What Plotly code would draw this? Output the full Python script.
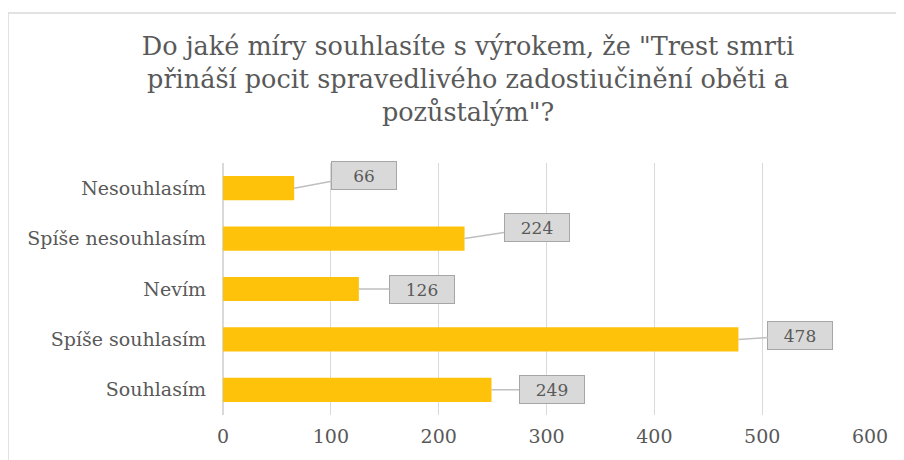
import plotly.graph_objects as go

# odpovědi (shora dolů) a počty respondentů
categories = ["Nesouhlasím", "Spíše nesouhlasím", "Nevím", "Spíše souhlasím", "Souhlasím"]
counts = [66, 224, 126, 478, 249]
x_ticks = [0, 100, 200, 300, 400, 500, 600]

title_text = ('Do jaké míry souhlasíte s výrokem, že "Trest smrti<br>'
              'přináší pocit spravedlivého zadostiučinění oběti a<br>'
              'pozůstalým"?')

# posun popisků (v pixelech) od konce sloupce
label_offsets = [(70, -13), (72, -11), (63, 0), (62, -4), (60, 0)]

font_family = "DejaVu Serif"
grey_text = "#595959"

fig = go.Figure(go.Bar(
    x=counts,
    y=categories,
    orientation="h",
    width=0.48,
    marker=dict(color="#FFC20A", line=dict(width=0)),
    hoverinfo="x+y",
))

# popisky dat jako bubliny s vodící čárou
for cat, val, (ax, ay) in zip(categories, counts, label_offsets):
    fig.add_annotation(
        x=val, y=cat, text=str(val),
        showarrow=True, arrowhead=0, arrowwidth=1.5, arrowcolor="#BFBFBF",
        ax=ax, ay=ay, standoff=0,
        bgcolor="#D9D9D9", bordercolor="#A6A6A6", borderwidth=1, borderpad=1,
        width=62, height=25,
        font=dict(family=font_family, size=17, color=grey_text),
    )

# rámeček grafu
fig.add_shape(
    type="rect", xref="paper", yref="paper",
    x0=-0.3323, x1=1.07, y0=-0.25, y1=1.595,
    line=dict(color="#D9D9D9", width=1.5), fillcolor="rgba(0,0,0,0)",
    layer="below",
)

fig.update_layout(
    width=904, height=460,
    margin=dict(l=215, r=42, t=155, b=53, autoexpand=False),
    paper_bgcolor="white", plot_bgcolor="white",
    font=dict(family=font_family, color=grey_text),
    title=dict(
        text=title_text, x=460 / 904, xanchor="center",
        y=1 - 47 / 460, yanchor="top", yref="container",
        font=dict(family=font_family, size=25.5, color=grey_text),
    ),
    xaxis=dict(
        range=[0, 600], tickvals=x_ticks, showgrid=True, gridcolor="#D9D9D9",
        gridwidth=1, zeroline=True, zerolinecolor="#D9D9D9", zerolinewidth=1.5,
        showline=False, ticks="", automargin=False, ticklabelstandoff=8,
        tickfont=dict(family=font_family, size=19, color=grey_text),
    ),
    yaxis=dict(
        autorange="reversed", showgrid=False, showline=False, ticks="",
        ticklabelstandoff=16, automargin=False,
        tickfont=dict(family=font_family, size=19, color=grey_text),
    ),
    showlegend=False,
    bargap=0.5,
)

fig.write_html("out.html")
